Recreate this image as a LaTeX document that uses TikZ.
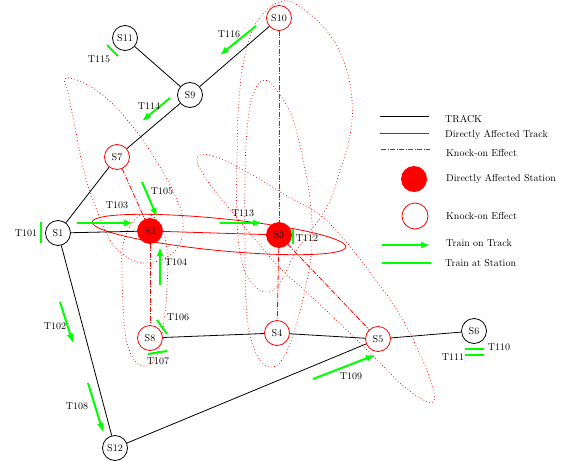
\documentclass[tikz,border=0pt]{standalone}
\usetikzlibrary{arrows.meta}
\begin{document}
\begin{tikzpicture}[x=1pt,y=-1pt,
  st/.style={circle, draw=black, line width=0.8pt, minimum size=25pt, inner sep=0pt, fill=white},
  ko/.style={st, draw=red},
  da/.style={st, draw=red, fill=red},
  track/.style={black, line width=0.8pt},
  dtrack/.style={red, line width=0.8pt},
  knock/.style={red, line width=0.8pt, dash pattern=on 5pt off 1.5pt on 1pt off 1.5pt},
  zone/.style={red, line width=0.7pt, dash pattern=on 0.8pt off 2.4pt},
  tarrow/.style={green, line width=2pt, -{Latex[length=9pt,width=7pt]}},
  tstat/.style={green, line width=2pt},
  lbl/.style={inner sep=0pt},
  leg/.style={inner sep=0pt, anchor=west}]
\useasboundingbox (0,0) rectangle (569,460);

% knock-on zones
\draw[zone] plot[smooth cycle, tension=0.7] coordinates {(67,78) (100,93) (133,127) (160,167) (177,200) (183,222) (180,243) (167,257) (145,263) (127,257) (110,240) (93,200) (83,167) (75,127) (69,97)};
\draw[zone] plot[smooth cycle, tension=0.7] coordinates {(147,214) (160,225) (167,250) (167,290) (164,320) (160,345) (153,362) (143,366) (133,358) (126,338) (123,305) (122,272) (123,245) (133,222)};
\draw[zone] plot[smooth cycle, tension=0.7] coordinates {(283,1) (307,12) (330,35) (345,65) (352,100) (350,135) (340,170) (327,207) (297,250) (280,283) (267,292) (253,284) (242,262) (237,220) (237,160) (239,100) (245,55) (258,20)};
\draw[zone] plot[smooth cycle, tension=0.7] coordinates {(265,80) (280,95) (293,120) (303,160) (310,200) (312,245) (305,290) (296,325) (285,355) (273,367) (260,360) (250,335) (246,300) (245,250) (245,180) (247,130) (253,95)};
\draw[zone] plot[smooth cycle, tension=0.7] coordinates {(197,158) (213,156) (247,172) (287,196) (320,215) (347,243) (372,275) (397,310) (418,350) (432,385) (433,402) (420,398) (400,383) (387,370) (357,340) (313,298) (280,268) (253,237) (222,200) (205,177)};
% directly affected zone
\draw[dtrack, rotate around={-5.6:(219,234.5)}] (219,234.5) ellipse [x radius=127.5, y radius=16];

% stations
\node[st] (S1) at (58,233) {S1};
\node[da] (S2) at (150,231) {S2};
\node[da] (S3) at (279,235) {S3};
\node[ko] (S4) at (277,333) {S4};
\node[ko] (S5) at (378,339) {S5};
\node[st] (S6) at (474,331) {S6};
\node[ko] (S7) at (117,157) {S7};
\node[ko] (S8) at (150,338) {S8};
\node[st] (S9) at (190,95) {S9};
\node[ko] (S10) at (279,18) {S10};
\node[st] (S11) at (125,38) {S11};
\node[st] (S12) at (115,448) {S12};

% tracks
\draw[track] (S1) -- (S2);
\draw[track] (S1) -- (S7);
\draw[track] (S7) -- (S9);
\draw[track] (S9) -- (S10);
\draw[track] (S9) -- (S11);
\draw[track] (S1) -- (S12);
\draw[track] (S12) -- (S5);
\draw[track] (S8) -- (S4);
\draw[track] (S4) -- (S5);
\draw[track] (S5) -- (S6);
\draw[dtrack] (S2) -- (S3);
\draw[knock] (S7) -- (S2);
\draw[knock] (S2) -- (S8);
\draw[knock] (S10) -- (S3);
\draw[knock] (S3) -- (S4);
\draw[knock] (S3) -- (S5);

% trains on track
\draw[tarrow] (77,223) -- (133,223);
\draw[tarrow] (142,182) -- (157,217);
\draw[tarrow] (160,285) -- (160,247);
\draw[tarrow] (220,223) -- (262,223);
\draw[tarrow] (60,302) -- (73,343);
\draw[tarrow] (88,383) -- (103,432);
\draw[tarrow] (313,379) -- (375,355);
\draw[tarrow] (170,98) -- (142,121);
\draw[tarrow] (256,26) -- (220,55);
% trains at station
\draw[tstat] (41,222) -- (41,243);
\draw[tstat] (107,45) -- (118,56);
\draw[tstat] (293,229) -- (293,244);
\draw[tstat] (157,320) -- (167,334);
\draw[tstat] (148,354) -- (167,351);
\draw[tstat] (465,349) -- (484,349);
\draw[tstat] (465,355) -- (484,355);

% train labels
\node[lbl] (l101) at (26,233) {T101};
\node[lbl] (l102) at (55,326) {T102};
\node[lbl] (l103) at (117,205) {T103};
\node[lbl] (l104) at (176,262) {T104};
\node[lbl] (l105) at (162,191) {T105};
\node[lbl] (l106) at (178,317) {T106};
\node[lbl] (l107) at (158,361) {T107};
\node[lbl] (l108) at (77,406) {T108};
\node[lbl] (l109) at (351,376) {T109};
\node[lbl] (l110) at (499,347) {T110};
\node[lbl] (l111) at (453,357) {T111};
\node[lbl] (l112) at (307,238) {T112};
\node[lbl] (l113) at (243,213) {T113};
\node[lbl] (l114) at (149,106) {T114};
\node[lbl] (l115) at (99,59) {T115};
\node[lbl] (l116) at (229,34) {T116};

% legend
\draw[track] (380,116) -- (429,116);
\node[leg] (g1) at (445,119) {TRACK};
\draw[dtrack] (380,133) -- (429,133);
\node[leg] (g2) at (445,135) {Directly Affected Track};
\draw[knock] (381,149) -- (430,149);
\node[leg] (g3) at (446,153) {Knock-on Effect};
\node[circle, fill=red, minimum size=26pt, inner sep=0pt] (g4c) at (414,179) {};
\node[leg] (g4) at (446,179) {Directly Affected Station};
\node[circle, draw=red, line width=0.8pt, minimum size=26pt, inner sep=0pt] (g5c) at (415,216) {};
\node[leg] (g5) at (446,216) {Knock-on Effect};
\draw[tarrow] (382,245) -- (430,245);
\node[leg] (g6) at (446,243) {Train on Track};
\draw[tstat] (382,263) -- (431,263);
\node[leg] (g7) at (445,263) {Train at Station};
\end{tikzpicture}
\end{document}
